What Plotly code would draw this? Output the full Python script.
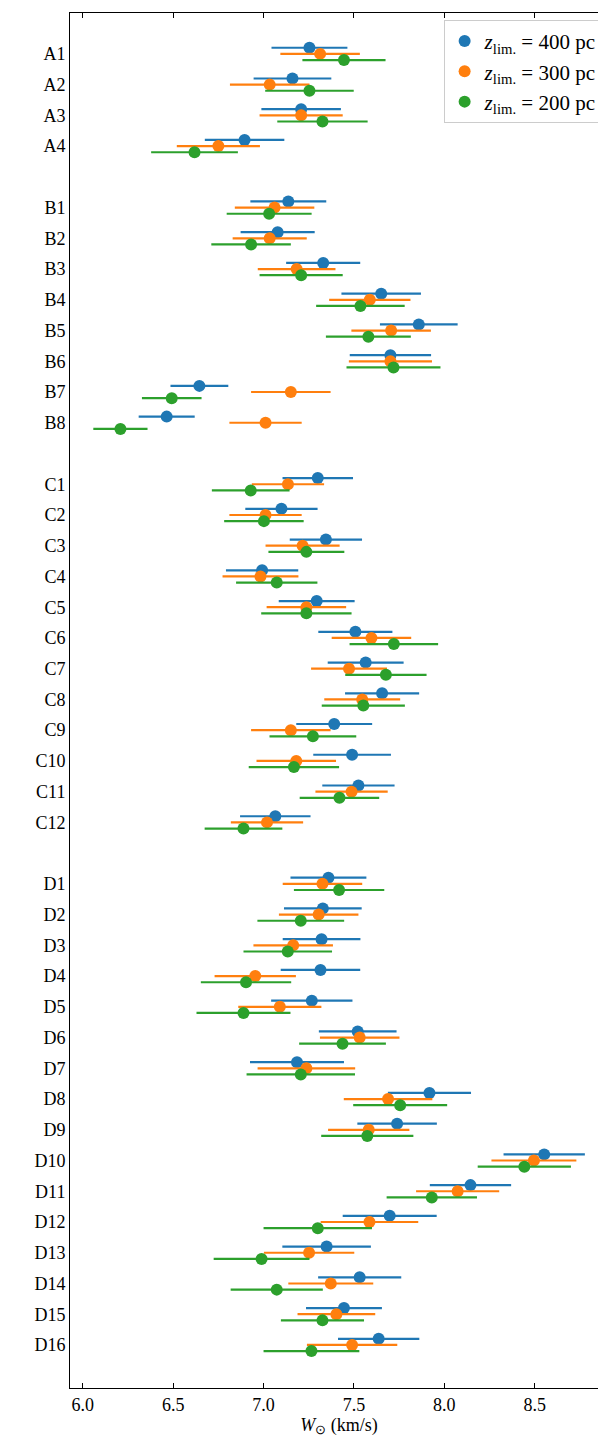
import plotly.graph_objects as go

labels = ["A1","A2","A3","A4",
          "B1","B2","B3","B4","B5","B6","B7","B8",
          "C1","C2","C3","C4","C5","C6","C7","C8","C9","C10","C11","C12",
          "D1","D2","D3","D4","D5","D6","D7","D8","D9","D10","D11","D12","D13","D14","D15","D16"]
group_sizes = [4, 8, 12, 16]

w400 = [7.254,7.160,7.208,6.895,
        7.137,7.078,7.330,7.651,7.859,7.702,6.645,6.464,
        7.300,7.099,7.345,6.992,7.294,7.508,7.565,7.656,7.391,7.490,7.525,7.065,
        7.359,7.328,7.321,7.315,7.267,7.521,7.185,7.918,7.739,8.553,8.145,7.698,7.349,7.532,7.445,7.637]
e400 = [0.21,0.215,0.22,0.22,
        0.21,0.205,0.205,0.22,0.215,0.225,0.16,0.155,
        0.195,0.2,0.2,0.2,0.21,0.205,0.21,0.205,0.21,0.215,0.2,0.195,
        0.21,0.215,0.215,0.22,0.225,0.215,0.26,0.23,0.22,0.225,0.225,0.26,0.245,0.23,0.21,0.225]
w300 = [7.313,7.034,7.208,6.750,
        7.061,7.034,7.183,7.588,7.706,7.702,7.151,7.011,
        7.135,7.011,7.216,6.983,7.237,7.597,7.473,7.546,7.151,7.181,7.487,7.019,
        7.326,7.305,7.164,6.954,7.090,7.532,7.237,7.689,7.582,8.496,8.074,7.586,7.252,7.372,7.403,7.490]
e300 = [0.22,0.22,0.23,0.23,
        0.22,0.205,0.215,0.225,0.22,0.23,0.22,0.2,
        0.2,0.2,0.205,0.21,0.22,0.22,0.21,0.21,0.22,0.22,0.2,0.2,
        0.22,0.22,0.22,0.225,0.23,0.22,0.27,0.245,0.225,0.235,0.23,0.27,0.25,0.235,0.215,0.25]
w200 = [7.445,7.254,7.326,6.618,
        7.031,6.931,7.208,7.536,7.580,7.719,6.492,6.208,
        6.929,7.002,7.237,7.073,7.237,7.721,7.677,7.552,7.273,7.168,7.420,6.889,
        7.418,7.206,7.134,6.903,6.889,7.437,7.206,7.756,7.574,8.443,7.931,7.300,6.989,7.073,7.326,7.265]
e200 = [0.23,0.245,0.25,0.24,
        0.235,0.22,0.23,0.245,0.235,0.26,0.165,0.15,
        0.215,0.22,0.21,0.225,0.25,0.245,0.225,0.23,0.24,0.25,0.22,0.215,
        0.25,0.24,0.245,0.25,0.26,0.24,0.3,0.26,0.255,0.258,0.25,0.3,0.265,0.255,0.23,0.265]

series_names = ["<i>z</i><sub>lim.</sub> = 400 pc", "<i>z</i><sub>lim.</sub> = 300 pc", "<i>z</i><sub>lim.</sub> = 200 pc"]
colors = ["#1f77b4", "#ff7f0e", "#2ca02c"]

ypos = []
row = 0
for g in group_sizes:
    for _ in range(g):
        ypos.append(row)
        row += 1
    row += 1

offsets = [-0.2, 0.0, 0.2]
fig = go.Figure()
for vals, errs, name, col, off in zip([w400, w300, w200], [e400, e300, e200], series_names, colors, offsets):
    fig.add_trace(go.Scatter(
        x=vals, y=[p + off for p in ypos], mode="markers", name=name,
        marker=dict(color=col, size=12),
        error_x=dict(type="data", array=errs, color=col, thickness=2.2, width=0),
    ))

serif = "Liberation Serif"
font = dict(family=serif, size=18, color="black")
fig.update_layout(
    width=606, height=1448, margin=dict(l=62, r=6, t=5, b=68),
    paper_bgcolor="white", plot_bgcolor="white", font=font,
    showlegend=True,
    legend=dict(x=0.99, y=0.995, xanchor="right", yanchor="top",
                bgcolor="rgba(255,255,255,0.8)", bordercolor="#cccccc", borderwidth=1,
                font=dict(family=serif, size=21), itemsizing="constant", tracegroupgap=6),
)
fig.update_xaxes(range=[5.929, 8.906], tickvals=[6.0,6.5,7.0,7.5,8.0,8.5],
                 ticktext=["6.0","6.5","7.0","7.5","8.0","8.5"],
                 tickfont=dict(family=serif, size=18), automargin=False,
                 ticks="inside", ticklen=5, tickcolor="black", mirror="ticks",
                 showline=True, linecolor="black", linewidth=1, showgrid=False, zeroline=False,
                 title=dict(text="<i>W</i><sub>⊙</sub> (km/s)", standoff=4, font=dict(family=serif, size=18)))
fig.update_yaxes(range=[row - 2 + 1.4, -1.33], tickvals=ypos, ticktext=labels,
                 tickfont=dict(family=serif, size=18), automargin=False,
                 ticks="", showline=True, linecolor="black", linewidth=1, mirror=True,
                 showgrid=False, zeroline=False)
fig.write_html("out.html")
